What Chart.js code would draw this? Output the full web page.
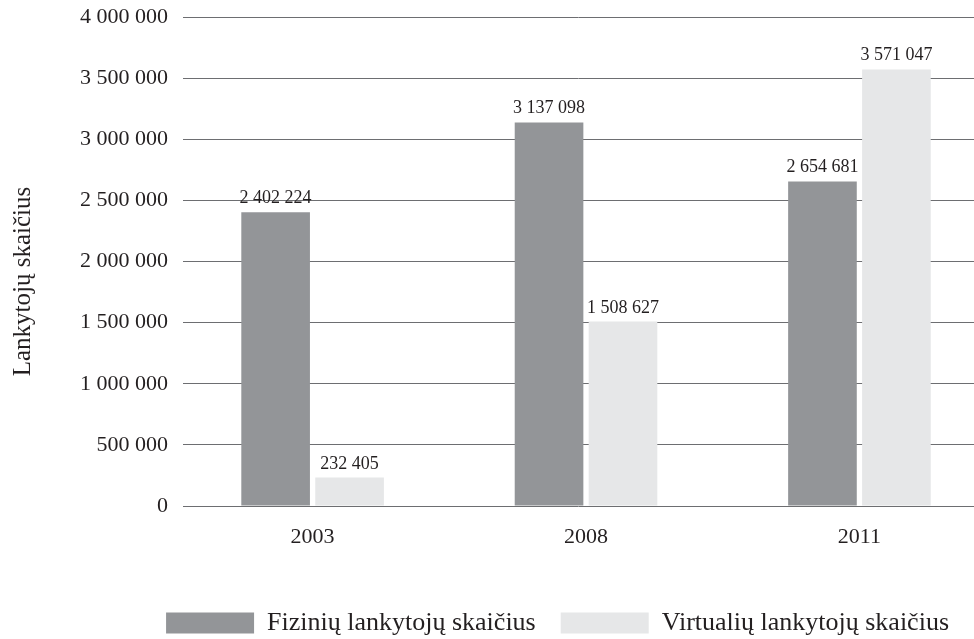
<!DOCTYPE html>
<html>
<head>
<meta charset="utf-8">
<script src="https://cdn.jsdelivr.net/npm/chart.js@4.4.1/dist/chart.umd.min.js"></script>
<style>
  html, body { margin: 0; padding: 0; background: #fff; }
  #wrap { width: 974px; height: 639px; position: relative; }
</style>
</head>
<body>
<div id="wrap"><canvas id="visitors"></canvas></div>
<script>
// data
var years = ['2003', '2008', '2011'];
var physicalVisitors = [2402224, 3137098, 2654681];
var virtualVisitors = [232405, 1508627, 3571047];
var yTicks = [0, 500000, 1000000, 1500000, 2000000, 2500000, 3000000, 3500000, 4000000];
var yTitle = 'Lankytojų skaičius';

var ink = '#231f20';
var serif = '"Liberation Serif", "Times New Roman", serif';

function spaced(n) {
    return String(n).replace(/\B(?=(\d{3})+(?!\d))/g, ' ');
}

function points(values) {
    return values.map(function (v, i) { return { x: i, y: v }; });
}

// value labels above the bars + the axis title (sits a bit below the axis middle)
var barValues = {
    id: 'barValues',
    afterDatasetsDraw: function (chart) {
        var ctx = chart.ctx;
        ctx.save();
        ctx.font = '18px ' + serif;
        ctx.fillStyle = ink;
        ctx.textAlign = 'center';
        ctx.textBaseline = 'alphabetic';
        chart.data.datasets.forEach(function (ds, i) {
            chart.getDatasetMeta(i).data.forEach(function (bar, j) {
                ctx.fillText(spaced(ds.data[j].y), bar.x, bar.y - 9);
            });
        });
        ctx.restore();

        var area = chart.chartArea;
        ctx.save();
        ctx.font = '25px ' + serif;
        ctx.fillStyle = ink;
        ctx.textAlign = 'center';
        ctx.textBaseline = 'middle';
        ctx.translate(23, (area.top + area.bottom) / 2 + 20);
        ctx.rotate(-Math.PI / 2);
        ctx.fillText(yTitle, 0, 0);
        ctx.restore();
    }
};

var ctx = document.getElementById('visitors').getContext('2d');
var visitorsChart = new Chart(ctx, {
    type: 'bar',
    data: {
        datasets: [{
            label: 'Fizinių lankytojų skaičius',
            data: points(physicalVisitors),
            backgroundColor: '#939598',
            borderWidth: 0
        }, {
            label: 'Virtualių lankytojų skaičius',
            data: points(virtualVisitors),
            backgroundColor: '#e6e7e8',
            borderWidth: 0
        }]
    },
    options: {
        responsive: true,
        maintainAspectRatio: false,
        animation: false,
        categoryPercentage: 0.541,
        barPercentage: 0.928,
        layout: { padding: { top: 17, right: 0, bottom: -7, left: 0 } },
        plugins: {
            tooltip: { enabled: false },
            legend: {
                position: 'bottom',
                align: 'end',
                labels: {
                    boxWidth: 88,
                    boxHeight: 21,
                    padding: 25,
                    color: ink,
                    font: { family: serif, size: 26 }
                }
            }
        },
        scales: {
            x: {
                type: 'linear',
                offset: false,
                min: -0.474,
                max: 2.419,
                grid: { display: false, offset: false },
                border: { display: false },
                afterBuildTicks: function (scale) {
                    scale.ticks = years.map(function (y, i) { return { value: i }; });
                },
                afterFit: function (scale) {
                    scale.height = 79;
                    scale.paddingLeft = 0;
                    scale.paddingRight = 0;
                },
                ticks: {
                    padding: 10,
                    color: ink,
                    font: { family: serif, size: 22 },
                    callback: function (value) { return years[value]; }
                }
            },
            y: {
                min: 0,
                max: 4000000,
                afterBuildTicks: function (scale) {
                    scale.ticks = yTicks.map(function (v) { return { value: v }; });
                },
                afterFit: function (scale) {
                    scale.width = 183;
                    scale.paddingTop = 0;
                    scale.paddingBottom = 0;
                },
                grid: { color: '#6d6e71', lineWidth: 1, drawTicks: false },
                border: { display: false },
                ticks: {
                    padding: 15,
                    color: ink,
                    font: { family: serif, size: 22 },
                    callback: function (value) { return spaced(value); }
                }
            }
        }
    },
    plugins: [barValues]
});
</script>
</body>
</html>
